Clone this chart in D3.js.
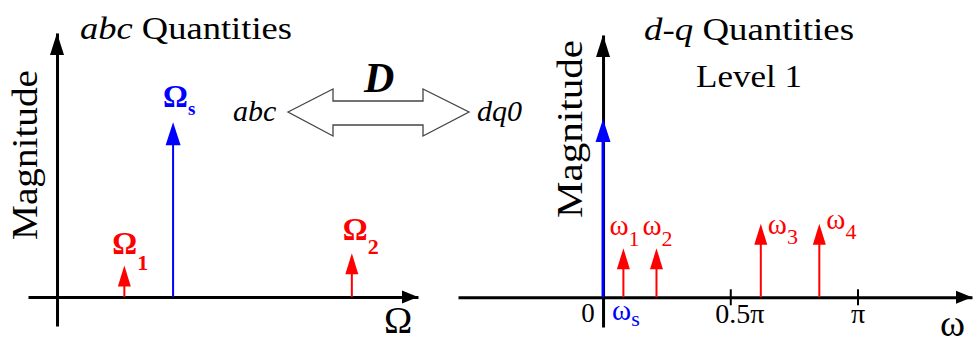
<!DOCTYPE html>
<html>
<head>
<meta charset="utf-8">
<script src="https://cdn.jsdelivr.net/npm/d3@7"></script>
<style>
  body { margin: 0; background: #fff; }
  svg { display: block; }
  svg text { font-family: 'Liberation Serif', 'DejaVu Serif', serif; }
</style>
</head>
<body>
<svg id="chart" width="973" height="343"></svg>
<script>
// abc quantities: frequency in units of the supply frequency.
var abcNames = ['1', 's', '2'];
var abcFreqs = [0.58, 1.0, 2.54];
var abcMags = [0.18, 1.0, 0.25];

// d-q quantities, level 1: frequency in units of pi.
var dqNames = ['s', '1', '2', '3', '4'];
var dqFreqs = [0, 0.08, 0.21, 0.62, 0.85];
var dqMags = [1.02, 0.28, 0.28, 0.42, 0.42];

// Tick labels of the d-q frequency axis.
var dqTickValues = [0.5, 1];
var dqTickLabels = ['0.5\u03c0', '\u03c0'];

// Label placement (relative to the arrow tip).
var abcLabelDx = [-12, -10, -9];
var abcLabelDy = [-12, -15, -13];
var abcSubDy = [16, 8, 14];
var dqLabelDx = [9, -14, -14, 7, 7];
var dqLabelDy = [23, -13, -13, 10, 5];
var dqSubDy = [6, 11, 11, 10, 10];

// Constants.
var kRed = '#ff0000';
var kBlue = '#0000ff';
var kHeadLen = 21;
var kHeadHalf = 6.5;

var svg = d3.select('#chart');

// Scales.
var xAbc = d3.scaleLinear().domain([-0.25, 3.11]).range([28, 418]);
var yAbc = d3.scaleLinear().domain([-0.166, 1.51]).range([326, 33]);
var xDq = d3.scaleLinear().domain([-0.57, 1.45]).range([458, 972]);
var yDq = d3.scaleLinear().domain([-0.17, 1.5]).range([327, 35]);

// Draw a filled arrow head.
// @param dir Unit vector pointing towards the tip.
function ArrowHead(g, tipX, tipY, dir, len, half, color)
{
  var bx = tipX - dir[0] * len;
  var by = tipY - dir[1] * len;
  var px = -dir[1] * half;
  var py = dir[0] * half;
  g.append('path')
    .attr('d', 'M' + tipX + ',' + tipY +
               'L' + (bx + px) + ',' + (by + py) +
               'L' + (bx - px) + ',' + (by - py) + 'Z')
    .attr('fill', color);
}

// Draw both axes of a panel, with arrows at their ends.
function DrawAxes(x, y)
{
  var g = svg.append('g');
  var x0 = x(0);
  var y0 = y(0);

  var xAxis = g.append('g')
    .attr('transform', 'translate(0,' + y0 + ')')
    .call(d3.axisBottom(x).tickValues([]).tickSizeOuter(0));
  xAxis.select('.domain')
    .attr('stroke', '#000')
    .attr('stroke-width', 3);

  var yAxis = g.append('g')
    .attr('transform', 'translate(' + x0 + ',0)')
    .call(d3.axisLeft(y).tickValues([]).tickSizeOuter(0));
  yAxis.select('.domain')
    .attr('stroke', '#000')
    .attr('stroke-width', 3);

  ArrowHead(g, x.range()[1], y0, [1, 0], 16, 6.5, '#000');
  ArrowHead(g, x0, y.range()[1], [0, -1], 22, 7, '#000');
  return g;
}

// Draw the spectral lines as arrows.
function DrawLines(x, y, names, freqs, mags, widths)
{
  var g = svg.append('g');
  names.forEach(function(name, i) {
    var color = name == 's' ? kBlue : kRed;
    var px = x(freqs[i]);
    var tip = y(mags[i]);
    var len = name == 's' ? kHeadLen + 2 : kHeadLen;
    g.append('line')
      .attr('x1', px).attr('x2', px)
      .attr('y1', y(0)).attr('y2', tip + len - 2)
      .attr('stroke', color)
      .attr('stroke-width', widths(name));
    ArrowHead(g, px, tip, [0, -1], len, name == 's' ? 7.5 : kHeadHalf, color);
  });
  return g;
}

// Text with a subscript.
function SubLabel(x, y, base, sub, subDy, size, subSize, color, weight)
{
  var t = svg.append('text')
    .attr('x', x)
    .attr('y', y)
    .attr('fill', color)
    .attr('font-weight', weight)
    .attr('font-size', size);
  t.append('tspan').text(base);
  t.append('tspan')
    .attr('dy', subDy)
    .attr('font-size', subSize)
    .text(sub);
  return t;
}

// Plain text helper.
function Label(x, y, str, size, opts)
{
  opts = opts || {};
  var t = svg.append('text')
    .attr('x', x)
    .attr('y', y)
    .attr('font-size', size)
    .attr('fill', '#000')
    .attr('text-anchor', opts.anchor || 'start')
    .text(str);
  if (opts.italic)
    t.attr('font-style', 'italic');
  if (opts.bold)
    t.attr('font-weight', 'bold');
  if (opts.length)
    t.attr('textLength', opts.length).attr('lengthAdjust', 'spacingAndGlyphs');
  return t;
}

// Rotated axis title.
function Magnitude(x, cy, length)
{
  svg.append('text')
    .attr('transform', 'translate(' + x + ',' + cy + ') rotate(-90)')
    .attr('text-anchor', 'middle')
    .attr('font-size', 36)
    .attr('textLength', length)
    .attr('lengthAdjust', 'spacingAndGlyphs')
    .text('Magnitude');
}

// ----- abc panel -----
DrawAxes(xAbc, yAbc);
DrawLines(xAbc, yAbc, abcNames, abcFreqs, abcMags, function() { return 2; });
abcNames.forEach(function(name, i) {
  var color = name == 's' ? kBlue : kRed;
  SubLabel(xAbc(abcFreqs[i]) + abcLabelDx[i], yAbc(abcMags[i]) + abcLabelDy[i],
           '\u03a9', name, abcSubDy[i], 31, name == 's' ? 19 : 22, color, 'bold');
});

var abcTitle = svg.append('text')
  .attr('x', 80).attr('y', 39)
  .attr('font-size', 31)
  .attr('textLength', 212)
  .attr('lengthAdjust', 'spacingAndGlyphs');
abcTitle.append('tspan').attr('font-style', 'italic').text('abc');
abcTitle.append('tspan').text(' Quantities');

Magnitude(37, 155, 170);
Label(384, 333, '\u03a9', 38);

// ----- transform arrow -----
svg.append('path')
  .attr('d', 'M288,112 L333,89 L333,101 L423,101 L423,89 L469,112 ' +
             'L423,136 L423,125 L333,125 L333,136 Z')
  .attr('fill', '#fff')
  .attr('stroke', '#444')
  .attr('stroke-width', 1.3)
  .attr('stroke-linejoin', 'miter');
Label(233, 121, 'abc', 30, { italic: true });
Label(477, 121, 'dq0', 30, { italic: true });
Label(364, 92, 'D', 42, { italic: true, bold: true });

// ----- d-q panel -----
var dqAxes = DrawAxes(xDq, yDq);
dqAxes.append('g')
  .attr('transform', 'translate(0,' + yDq(0) + ')')
  .call(d3.axisBottom(xDq).tickValues(dqTickValues)
        .tickFormat(function(d, i) { return dqTickLabels[i]; }))
  .call(function(g) {
    g.attr('font-family', null);
    g.select('.domain').remove();
    g.selectAll('.tick line')
      .attr('y1', -8).attr('y2', 8)
      .attr('stroke', '#000')
      .attr('stroke-width', 2);
    g.selectAll('.tick text')
      .attr('y', 26).attr('dy', 0)
      .attr('dx', function(d) { return d == 0.5 ? 9 : 0; })
      .attr('fill', '#000')
      .attr('font-size', 28);
  });
Label(xDq(0) - 15, 322, '0', 27, { anchor: 'middle' });

DrawLines(xDq, yDq, dqNames, dqFreqs, dqMags,
          function(name) { return name == 's' ? 3 : 2; });
dqNames.forEach(function(name, i) {
  var color = name == 's' ? kBlue : kRed;
  var baseY = name == 's' ? yDq(0) : yDq(dqMags[i]);
  SubLabel(xDq(dqFreqs[i]) + dqLabelDx[i], baseY + dqLabelDy[i],
           '\u03c9', name, dqSubDy[i], 29, 22, color, 'normal');
});

var dqTitle = svg.append('text')
  .attr('x', 644).attr('y', 40)
  .attr('font-size', 31)
  .attr('textLength', 210)
  .attr('lengthAdjust', 'spacingAndGlyphs');
dqTitle.append('tspan').attr('font-style', 'italic').text('d-q');
dqTitle.append('tspan').text(' Quantities');
Label(749, 87, 'Level 1', 31, { anchor: 'middle', length: 106 });

Magnitude(582, 129, 178);
Label(940, 336, '\u03c9', 38);
</script>
</body>
</html>
